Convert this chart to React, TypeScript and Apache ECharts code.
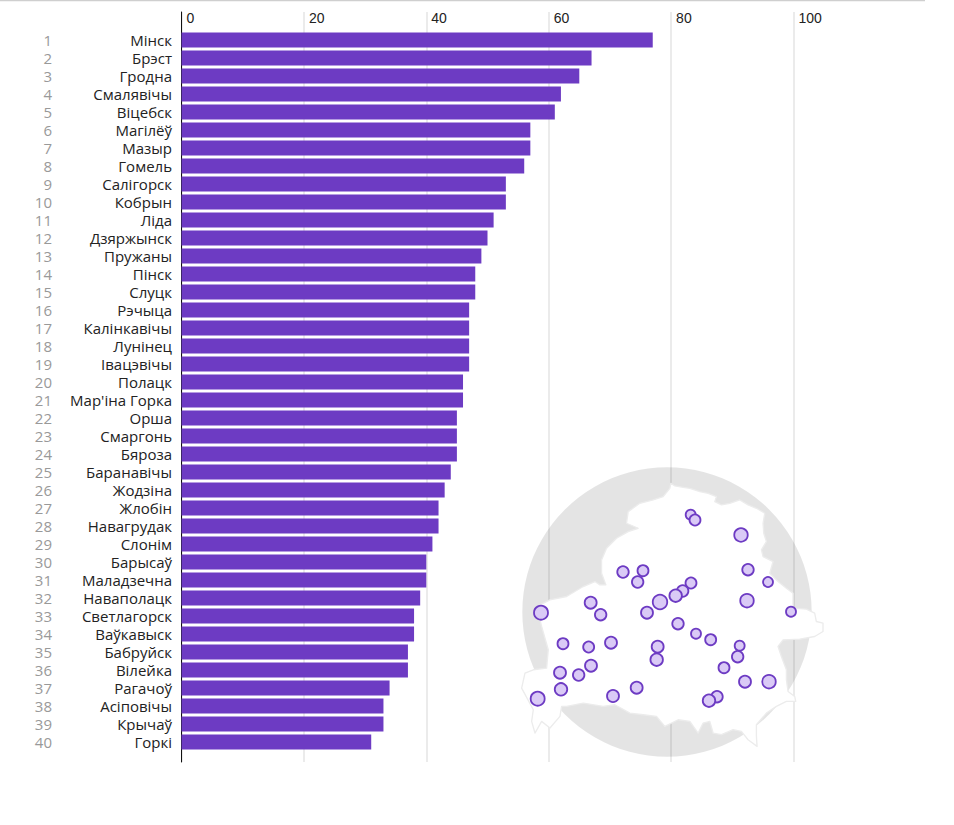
import React, { useEffect, useRef } from "react";
import * as echarts from "echarts";

const cities = ["Мінск","Брэст","Гродна","Смалявічы","Віцебск","Магілёў","Мазыр","Гомель","Салігорск","Кобрын","Ліда","Дзяржынск","Пружаны","Пінск","Слуцк","Рэчыца","Калінкавічы","Лунінец","Івацэвічы","Полацк","Мар'іна Горка","Орша","Смаргонь","Бяроза","Баранавічы","Жодзіна","Жлобін","Навагрудак","Слонім","Барысаў","Маладзечна","Наваполацк","Светлагорск","Ваўкавыск","Бабруйск","Вілейка","Рагачоў","Асіповічы","Крычаў","Горкі"];
const values = [77,67,65,62,61,57,57,56,53,53,51,50,49,48,48,47,47,47,47,46,46,45,45,45,44,43,42,42,41,40,40,39,38,38,37,37,34,33,33,31];
const ranks = cities.map((_, i) => String(i + 1));
const tickValues = [0, 20, 40, 60, 80, 100];

const mapX = [572,585,723,744,804,369,429,413,573,548,527,480,441,272,302,123,873,741,534,588,632,189,266,333,473,470,719,713,273,672,180,236,735,807,183,339,410,113,651,627];
const mapY = [194,210,255,359,396,366,362,396,399,423,437,456,488,458,494,488,485,452,521,551,569,581,591,578,590,629,587,620,647,653,668,675,695,695,718,738,713,746,740,752];
const mapSize = [10,11,13.5,11.5,10,11.5,11,11.5,11,11.5,12.5,14.5,12,12,11.5,14,10,13.5,11.5,10,11,11,11,12,12,12.5,10,11.5,12,11,12,11.5,12,13.5,12.5,12,12,14,11.5,12.5];

const outline = [[513,100],[525,108],[550,112],[570,115],[600,125],[625,130],[650,140],[645,155],[665,165],[690,160],[720,150],[745,165],[770,175],[795,190],[790,220],[792,250],[800,275],[785,300],[790,320],[820,335],[810,370],[835,395],[860,415],[880,430],[880,475],[920,478],[945,490],[950,515],[970,520],[970,545],[945,560],[900,568],[850,570],[835,590],[845,620],[860,660],[860,690],[865,725],[885,740],[888,755],[860,755],[830,770],[800,790],[770,825],[770,860],[772,890],[745,870],[725,845],[700,840],[665,855],[640,850],[630,815],[610,820],[595,850],[570,815],[535,810],[495,830],[470,800],[430,795],[390,790],[345,765],[310,770],[250,760],[200,770],[185,770],[180,800],[150,835],[125,815],[105,850],[95,815],[100,780],[65,715],[75,670],[100,660],[140,655],[145,600],[125,530],[115,490],[120,465],[150,450],[200,440],[250,410],[285,395],[300,405],[318,405],[305,370],[305,330],[320,295],[350,265],[385,245],[415,235],[380,220],[385,185],[420,160],[460,150],[490,140],[510,115]];

const PURPLE = "#6d3bc3";

export default function App() {
  const ref = useRef<HTMLDivElement>(null);
  useEffect(() => {
    const chart = echarts.init(ref.current!, undefined, { renderer: "svg" });
    const hidden = { show: false };
    chart.setOption({
      animation: false,
      backgroundColor: "#fff",
      grid: [
        { left: 181.5, width: 612, top: 31, height: 720 },
        { left: 181.5, width: 612, top: 12, height: 750 },
        { left: 500, width: 340, top: 450, height: 320 },
      ],
      xAxis: [
        { gridIndex: 0, type: "value", min: 0, max: 100, ...hidden },
        {
          gridIndex: 1, type: "value", position: "top", min: 0, max: 100, interval: 20,
          axisLine: hidden, axisTick: hidden,
          splitLine: { show: true, lineStyle: { color: "#e4e4e4", width: 1.5 } },
          axisLabel: {
            inside: true, margin: -1, color: "#222", fontFamily: "Liberation Sans", fontSize: 14,
            align: "left", padding: [0, 0, 0, 5],
            customValues: tickValues,
          },
        },
        { gridIndex: 2, type: "value", min: 0, max: 1020, ...hidden },
      ],
      yAxis: [
        {
          gridIndex: 0, type: "category", inverse: true, data: cities,
          axisLine: hidden, axisTick: hidden,
          axisLabel: { interval: 0, margin: 9.5, color: "#222", fontFamily: "Open Sans", fontSize: 15, lineHeight: 17 },
        },
        {
          gridIndex: 0, type: "category", inverse: true, data: ranks, position: "left",
          axisLine: hidden, axisTick: hidden,
          axisLabel: { interval: 0, margin: 129.5, color: "#999", fontFamily: "Open Sans", fontSize: 15, lineHeight: 17 },
        },
        {
          gridIndex: 1, type: "value", min: 0, max: 1,
          axisLine: { show: true, onZero: false, lineStyle: { color: "#111", width: 1 } },
          axisTick: hidden, axisLabel: hidden, splitLine: hidden,
        },
        { gridIndex: 2, type: "value", inverse: true, min: 0, max: 960, ...hidden },
      ],
      graphic: [
        { type: "line", z: 1, shape: { x1: 0, y1: 0.5, x2: 925, y2: 0.5 }, style: { stroke: "#cfcfcf", lineWidth: 1.5 } },
        { type: "circle", z: 1, shape: { cx: 667, cy: 612, r: 144.7 }, style: { fill: "rgba(0,0,0,0.105)" } },
        {
          type: "polygon", z: 1, x: 500, y: 450, scaleX: 1 / 3, scaleY: 1 / 3,
          shape: { points: outline },
          style: { fill: "#fff", stroke: "#ececec", lineWidth: 4, lineJoin: "round" },
        },
      ],
      series: [
        {
          type: "bar", xAxisIndex: 0, yAxisIndex: 0, data: values, barWidth: 15, z: 3,
          itemStyle: { color: PURPLE },
        },
        {
          type: "scatter", xAxisIndex: 2, yAxisIndex: 3, z: 4,
          data: mapX.map((x, i) => [x, mapY[i], mapSize[i]]),
          symbolSize: (d: number[]) => d[2],
          itemStyle: { color: "#dacaf6", borderColor: PURPLE, borderWidth: 1.8, opacity: 1 },
        },
      ],
    });
    return () => chart.dispose();
  }, []);
  return <div ref={ref} style={{ position: "absolute", left: 0, top: 0, width: 954, height: 825 }} />;
}
